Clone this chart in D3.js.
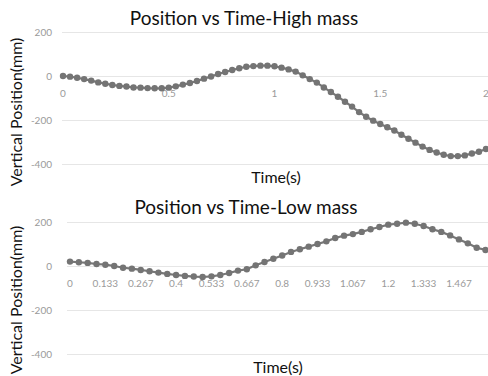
<!DOCTYPE html>
<html>
<head>
<meta charset="utf-8">
<script src="https://cdn.jsdelivr.net/npm/d3@7"></script>
<style>
  body { margin: 0; background: #fff; }
  svg { display: block; font-family: Lato, "Open Sans", sans-serif; }
  .grid line { stroke: #e6e6e6; }
  .grid path { display: none; }
  .ytick text { fill: #9a9a9a; font-size: 10px; }
  .xtick text { fill: #9a9a9a; font-size: 10px; }
</style>
</head>
<body>
<div id="chart"></div>
<script>
// frames sampled at 30 fps
const frameRate = 30;

// High mass: vertical position (mm) per frame
const highMass = [
  0, -3, -8, -14, -21, -29, -35, -41, -45, -48,
  -52, -53, -55, -56, -56, -53, -47, -39, -32, -23,
  -12, -2, 9, 18, 27, 35, 42, 45, 47, 47,
  44, 38, 30, 20, 3, -14, -30, -52, -73, -94,
  -117, -139, -164, -185, -203, -218, -233, -248, -267, -285,
  -303, -321, -336, -348, -358, -364, -364, -361, -352, -344,
  -332
];

// Low mass: vertical position (mm) per frame
const lowMass = [
  20, 17, 14, 9, 6, 0, -8, -12, -18, -24,
  -30, -36, -41, -45, -48, -50, -47, -41, -32, -21,
  -15, 3, 18, 33, 48, 64, 76, 88, 100, 112,
  127, 138, 145, 155, 167, 177, 188, 192, 197, 192,
  182, 167, 155, 139, 121, 103, 83, 73
];

const yTicks = [-400, -200, 0, 200];
const highXTicks = [0, 0.5, 1, 1.5, 2];
const highXLabels = ['0', '0.5', '1', '1.5', '2'];
const lowXTicks = [0, 4, 8, 12, 16, 20, 24, 28, 32, 36, 40, 44];
const lowXLabels = ['0', '0.133', '0.267', '0.4', '0.533', '0.667', '0.8', '0.933', '1.067', '1.2', '1.333', '1.467'];

const W = 488, H = 376;
const svg = d3.select('#chart').append('svg')
  .attr('width', W)
  .attr('height', H);

function drawPanel(opt) {
  const g = svg.append('g');
  const x = opt.x, y = opt.y;

  // horizontal gridlines
  g.append('g')
    .attr('class', 'grid')
    .attr('transform', `translate(${opt.gridLeft},0)`)
    .call(d3.axisLeft(y).tickValues(yTicks).tickSize(-(W - opt.gridLeft)).tickFormat(''));

  g.select('.grid').selectAll('line')
    .filter(d => d === 0)
    .attr('stroke', '#d6d6d6');

  // y labels
  g.append('g')
    .attr('class', 'ytick')
    .selectAll('text')
    .data(yTicks)
    .enter()
    .append('text')
    .attr('x', 52)
    .attr('y', d => y(d))
    .attr('dy', '0.35em')
    .attr('text-anchor', 'end')
    .text(d => d);

  // x labels sit just under the zero line
  g.append('g')
    .attr('class', 'xtick')
    .selectAll('text')
    .data(opt.xTicks)
    .enter()
    .append('text')
    .attr('x', d => x(d))
    .attr('y', y(0) + 21)
    .attr('text-anchor', 'middle')
    .text((d, i) => opt.xLabels[i]);

  const line = d3.line()
    .x(d => x(d.t))
    .y(d => y(d.v));

  g.append('path')
    .datum(opt.data)
    .attr('fill', 'none')
    .attr('stroke', '#777')
    .attr('stroke-width', 2.2)
    .attr('d', line);

  g.selectAll('circle')
    .data(opt.data)
    .enter()
    .append('circle')
    .attr('cx', d => x(d.t))
    .attr('cy', d => y(d.v))
    .attr('r', 3.2)
    .attr('fill', '#747474');

  g.append('text')
    .attr('x', opt.titleX)
    .attr('y', opt.titleY)
    .attr('text-anchor', 'middle')
    .attr('font-size', 19)
    .attr('fill', '#111')
    .text(opt.title);

  g.append('text')
    .attr('transform', `translate(22,${opt.yLabelY}) rotate(-90)`)
    .attr('text-anchor', 'middle')
    .attr('font-size', 16)
    .attr('fill', '#111')
    .text('Vertical Position(mm)');

  g.append('text')
    .attr('x', opt.xLabelX)
    .attr('y', opt.xLabelY)
    .attr('text-anchor', 'middle')
    .attr('font-size', 16)
    .attr('fill', '#111')
    .text('Time(s)');
}

const xHigh = d3.scaleLinear().domain([0, 2]).range([63, 486]);
const yHigh = d3.scaleLinear().domain([-400, 200]).range([164, 32]);
drawPanel({
  x: xHigh, y: yHigh,
  data: highMass.map((v, i) => ({ t: i / frameRate, v })),
  xTicks: highXTicks, xLabels: highXLabels,
  gridLeft: 62,
  title: 'Position vs Time-High mass', titleX: 244, titleY: 25,
  yLabelY: 112, xLabelX: 276, xLabelY: 183
});

const xLow = d3.scaleLinear().domain([0, 47]).range([70, 485.5]);
const yLow = d3.scaleLinear().domain([-400, 200]).range([354, 222]);
drawPanel({
  x: xLow, y: yLow,
  data: lowMass.map((v, i) => ({ t: i, v })),
  xTicks: lowXTicks, xLabels: lowXLabels,
  gridLeft: 67,
  title: 'Position vs Time-Low mass', titleX: 246, titleY: 214,
  yLabelY: 300, xLabelX: 278, xLabelY: 373
});
</script>
</body>
</html>
